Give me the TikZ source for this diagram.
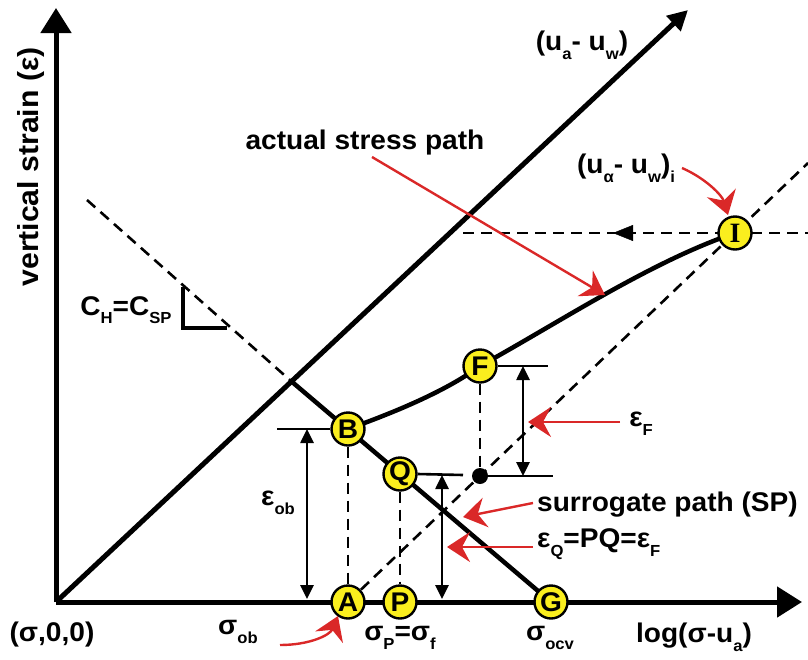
\documentclass[tikz,border=0pt]{standalone}
\usepackage{fontspec}
\setmainfont{Liberation Sans}[FakeStretch=1.04]
\newfontfamily\serifbf{Liberation Serif}
\usetikzlibrary{arrows.meta,backgrounds}
\definecolor{redarr}{RGB}{218,40,40}
\definecolor{ptyellow}{RGB}{250,238,30}
\newcommand\sbx[1]{\raisebox{-0.32em}{\fontsize{16}{16}\selectfont #1}}
\begin{document}
\begin{tikzpicture}[x=1pt,y=-1pt,
  font=\fontsize{27}{30}\selectfont\bfseries,
  axis/.style={line width=5pt, -{Triangle[length=25pt,width=30pt]}},
  pt/.style={circle, draw, line width=2.4pt, fill=ptyellow, minimum size=33pt, inner sep=0pt, font=\fontsize{27}{27}\selectfont\bfseries},
  dsh/.style={line width=2.6pt, dash pattern=on 11pt off 7pt},
  dimarrow/.style={line width=2.6pt, {Triangle[length=14pt,width=13pt]}-{Triangle[length=14pt,width=13pt]}},
  tickline/.style={line width=2.6pt},
  redarrow/.style={draw=redarr, line width=2.4pt, -{Stealth[length=23pt,width=30pt,inset=8pt]}, redarr},
  lbl/.style={inner sep=0pt}]
\useasboundingbox (0,0) rectangle (808,659);
% coordinates
\coordinate (O) at (56,602);
\coordinate (Ytip) at (56,8);
\coordinate (Xtip) at (802,602);
\coordinate (Dtip) at (688,10);
\coordinate (X) at (291,381);
\coordinate (D0) at (87,200);
\coordinate (Iext) at (808,163);
\coordinate (H0) at (463,233);
\coordinate (H1) at (808,233);
\coordinate (Ha) at (633,233);
\coordinate (Hb) at (613,233);
\coordinate (T1) at (183,287);
\coordinate (T2) at (183,328);
\coordinate (T3) at (227,328);
% points
\node[pt] (A) at (348,602) {A};
\node[pt] (P) at (400,602) {P};
\node[pt] (G) at (551,602) {G};
\node[pt] (B) at (348,429) {B};
\node[pt] (Q) at (400,474) {Q};
\node[pt] (F) at (480,366) {F};
\node[pt, font=\fontsize{28}{28}\selectfont] (I) at (735,233) {\serifbf\bfseries I};
\node[circle, fill=black, minimum size=16pt, inner sep=0pt] (dot) at (480,476) {};
% tick coordinates
\coordinate (tb) at (277,429);
\coordinate (tq) at (463,475);
\coordinate (tf) at (548,366);
\coordinate (td) at (553,476);
\coordinate (eob1) at (307,429);
\coordinate (eob2) at (307,599);
\coordinate (eq1) at (442,475);
\coordinate (eq2) at (442,599);
\coordinate (ef1) at (523,366);
\coordinate (ef2) at (523,476);
\begin{pgfonlayer}{background}
  \draw[axis] (O) -- (Ytip);
  \draw[axis] (O) -- (Xtip);
  \draw[line width=5pt, -{Triangle[length=20pt,width=20pt]}] (O) -- (Dtip);
  \draw[dsh] (D0) -- (X);
  \draw[line width=4.5pt] (X) -- (G.center);
  \draw[dsh] (A.center) -- (Iext);
  \draw[dsh] (H0) -- (H1);
  \draw[-{Triangle[length=20pt,width=16pt]}] (Ha) -- (Hb);
  \draw[dsh] (B) -- (A);
  \draw[dsh] (Q) -- (P);
  \draw[dsh] (F) -- (dot);
  \draw[line width=4.5pt, line join=miter] (T1) -- (T2) -- (T3);
  \draw[line width=4.5pt] (B.center) .. controls (390,414) and (445,392) .. (F.center)
      .. controls (560,322) and (650,262) .. (I.center);
\end{pgfonlayer}
% ticks and dimension arrows
\draw[tickline] (tb) -- (B.west);
\draw[tickline] (Q.east) -- (tq);
\draw[tickline] (F.east) -- (tf);
\draw[tickline] (dot.center) -- (td);
\draw[dimarrow] (eob1) -- (eob2);
\draw[dimarrow] (eq1) -- (eq2);
\draw[dimarrow] (ef1) -- (ef2);
% labels
\node[lbl] (luw) at (582,45) {(u\sbx{a}- u\sbx{w})};
\node[lbl] (lasp) at (365,143) {actual stress path};
\node[lbl] (luwi) at (626,168) {(u\sbx{α}- u\sbx{w})\sbx{i}};
\node[lbl] (lch) at (126,310) {C\sbx{H}=C\sbx{SP}};
\node[lbl, rotate=90, font=\fontsize{29}{30}\selectfont\bfseries] (lvs) at (31,167) {vertical strain (ε)};
\node[lbl] (leob) at (278,503) {ε\sbx{ob}};
\node[lbl] (lef) at (641,424) {ε\sbx{F}};
\node[lbl, anchor=west] (lsp) at (537,505) {surrogate path (SP)};
\node[lbl, anchor=west] (leq) at (537,544) {ε\sbx{Q}=PQ=ε\sbx{F}};
\node[lbl] (lorig) at (52,635) {(σ,0,0)};
\node[lbl] (lsob) at (238,632) {σ\sbx{ob}};
\node[lbl] (lsp2) at (400,638) {σ\sbx{P}=σ\sbx{f}};
\node[lbl] (lsocv) at (550,638) {σ\sbx{ocv}};
\node[lbl] (llog) at (694,637) {log(σ-u\sbx{a})};
% red arrows
\coordinate (r1a) at (372,157); \coordinate (r1b) at (605,295);
\coordinate (r2a) at (682,168); \coordinate (r2b) at (728,215);
\coordinate (r3a) at (620,422); \coordinate (r3b) at (528,422);
\coordinate (r4a) at (533,503); \coordinate (r4b) at (463,517);
\coordinate (r5a) at (533,547); \coordinate (r5b) at (447,547);
\coordinate (r6a) at (280,645); \coordinate (r6b) at (338,616);
\draw[redarrow] (r1a) -- (r1b);
\draw[redarrow] (r2a) .. controls (705,178) and (722,195) .. (r2b);
\draw[redarrow] (r3a) -- (r3b);
\draw[redarrow] (r4a) -- (r4b);
\draw[redarrow] (r5a) -- (r5b);
\draw[redarrow] (r6a) .. controls (310,645) and (330,635) .. (r6b);
\end{tikzpicture}
\end{document}
